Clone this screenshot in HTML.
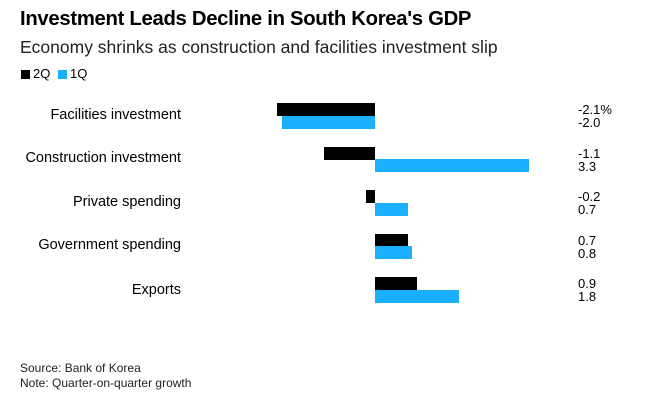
<!DOCTYPE html>
<html><head><style>
body{margin:0;width:647px;height:400px;background:#fff;font-family:"Liberation Sans",sans-serif;position:relative;overflow:hidden;color:#000}
.a{position:absolute;white-space:nowrap}
.b{position:absolute;height:13px}
.k{background:#000}.c{background:#1ab0ff}
.l{right:466px;font-size:14.5px}
.v{left:578px;font-size:13px;line-height:13px}
</style></head><body>
<div class="a" style="left:20px;top:8px;font-size:20.3px;font-weight:bold;letter-spacing:-0.3px">Investment Leads Decline in South Korea's GDP</div>
<div class="a" style="left:20px;top:37px;font-size:17.5px;color:#222">Economy shrinks as construction and facilities investment slip</div>
<div class="a" style="left:21px;top:70px;width:9px;height:9px;background:#000"></div>
<div class="a" style="left:33px;top:66px;font-size:13px">2Q</div>
<div class="a" style="left:58px;top:70px;width:9px;height:9px;background:#1ab0ff"></div>
<div class="a" style="left:70px;top:66px;font-size:13px">1Q</div>

<div class="a l" style="top:107px">Facilities investment</div>
<div class="b k" style="left:277px;width:98px;top:103px"></div>
<div class="b c" style="left:282px;width:93px;top:116px"></div>
<div class="a v" style="top:103px">-2.1%<br>-2.0</div>

<div class="a l" style="top:150px">Construction investment</div>
<div class="b k" style="left:324px;width:51px;top:147px"></div>
<div class="b c" style="left:375px;width:154px;top:159px"></div>
<div class="a v" style="top:147px">-1.1<br>3.3</div>

<div class="a l" style="top:194px">Private spending</div>
<div class="b k" style="left:366px;width:9px;top:190px"></div>
<div class="b c" style="left:375px;width:33px;top:203px"></div>
<div class="a v" style="top:190px">-0.2<br>0.7</div>

<div class="a l" style="top:237px">Government spending</div>
<div class="b k" style="left:375px;width:33px;top:234px"></div>
<div class="b c" style="left:375px;width:37px;top:246px"></div>
<div class="a v" style="top:234px">0.7<br>0.8</div>

<div class="a l" style="top:282px">Exports</div>
<div class="b k" style="left:375px;width:42px;top:277px"></div>
<div class="b c" style="left:375px;width:84px;top:290px"></div>
<div class="a v" style="top:277px">0.9<br>1.8</div>

<div class="a" style="left:20px;top:361px;font-size:12px;color:#222">Source: Bank of Korea</div>
<div class="a" style="left:20px;top:376px;font-size:12px;color:#222">Note: Quarter-on-quarter growth</div>
</body></html>
